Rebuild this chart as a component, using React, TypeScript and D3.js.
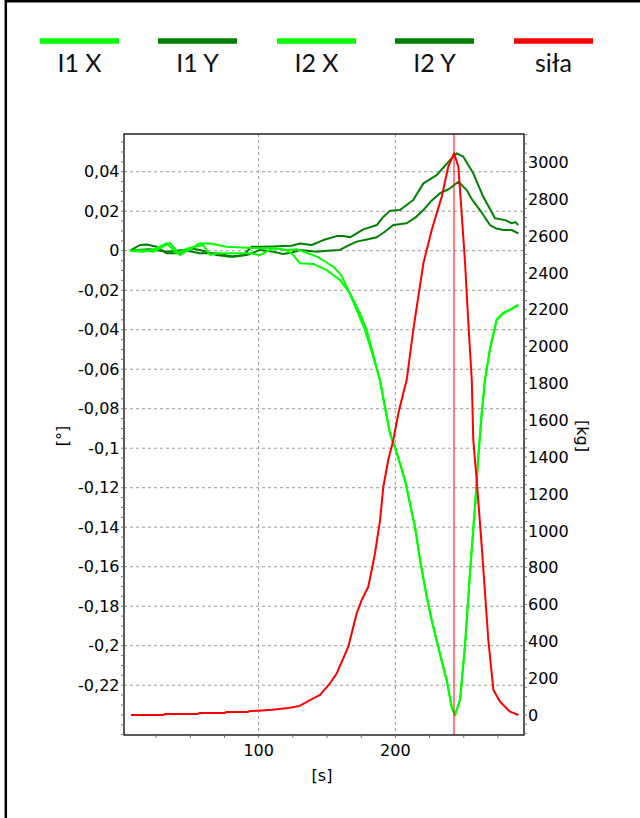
import React from "react";
import * as d3 from "d3";

type Pt = [number, number];

// Legend entries
const seriesNames = ["I1 X", "I1 Y", "I2 X", "I2 Y", "siła"];
const seriesColors = ["#00ff00", "#007f00", "#00ff00", "#007f00", "#ff0000"];

// Inclinometer readings [s, °]
const i1X: Pt[] = [
  [5.9, 0], [15.6, 0.0004], [22.9, -0.0005], [35.1, 0.004], [42.5, -0.0022], [57.1, 0.0038],
  [66, 0.0035], [76.6, 0.002], [91.2, 0.0015], [101, 0.0012], [110.7, 0.0012], [120.5, 0.0004],
  [127.8, 0.0007], [135, -0.001], [142.5, -0.003], [148, -0.0052], [154.6, -0.0081], [160, -0.012],
  [164.4, -0.0182], [168, -0.024], [171.7, -0.03], [177.8, -0.0402], [183, -0.052], [188.8, -0.0655],
  [192.4, -0.079], [196.1, -0.0925], [199.7, -0.0992], [203.4, -0.1076], [207.1, -0.1161],
  [210.7, -0.1279], [214.4, -0.1397], [218.1, -0.1566], [223, -0.1752], [226.6, -0.187],
  [230.2, -0.1971], [233.9, -0.2073], [237.6, -0.2174], [241.2, -0.2309], [243.6, -0.2351],
  [247.3, -0.2275], [250.9, -0.2005], [254.6, -0.1633], [258.3, -0.1296], [260.7, -0.1043],
  [263.2, -0.0823], [265.6, -0.0655], [269.2, -0.05], [274.1, -0.0351], [279, -0.0317],
  [284, -0.03], [289.9, -0.0275],
];

const i2X: Pt[] = [
  [5.9, 0], [15.6, -0.0005], [25, 0.001], [32.7, 0.0038], [40, -0.0013], [48, 0.0012],
  [59.5, 0.0029], [64.4, -0.0022], [69.3, -0.0013], [80, -0.0013], [93.7, -0.0013], [101, -0.0022],
  [110.7, 0.0012], [120.5, 0.0004], [125, -0.002], [130.2, -0.0064], [140, -0.0067],
  [149.8, -0.0098], [159.5, -0.0148], [166.8, -0.0216], [174.1, -0.0317], [179.1, -0.0402],
  [184, -0.053], [188.8, -0.066], [192.4, -0.0795], [196.1, -0.093], [199.7, -0.0997],
  [203.4, -0.108], [207.1, -0.1165], [210.7, -0.1285], [214.4, -0.1402], [218.1, -0.157],
  [223, -0.1756], [226.6, -0.1874], [230.2, -0.1975], [233.9, -0.2078], [237.6, -0.2178],
  [241.2, -0.2312], [243.6, -0.2353], [247.3, -0.2272], [250.9, -0.2], [254.6, -0.1628],
  [258.3, -0.129], [260.7, -0.1038], [263.2, -0.0818], [265.6, -0.065], [269.2, -0.0495],
  [274.1, -0.0348], [279, -0.0314], [284, -0.0298], [289.9, -0.0273],
];

const i1Y: Pt[] = [
  [5.9, 0], [13.2, 0.0029], [18.1, 0.0032], [25.4, 0.002], [32.7, -0.0013], [42.5, -0.0013],
  [49.8, 0.0012], [57.1, 0.0004], [69.3, -0.0022], [79, -0.003], [88.8, -0.0022], [94.9, 0.002],
  [101, 0.002], [110, 0.0022], [118, 0.0024], [124, 0.0025], [130.2, 0.0037], [138.8, 0.0029],
  [147.3, 0.0054], [157.1, 0.0074], [162, 0.0075], [166.8, 0.0068], [176.6, 0.0108],
  [186.4, 0.013], [191, 0.017], [196.1, 0.0203], [203.4, 0.0206], [208, 0.023], [213.1, 0.0257],
  [220.5, 0.0341], [230.2, 0.0383], [235, 0.042], [240, 0.0459], [244.9, 0.0493],
  [249.7, 0.0476], [257, 0.0392], [264.3, 0.0273], [272.9, 0.0164], [280.2, 0.0155],
  [285.1, 0.0139], [288, 0.0145], [289.9, 0.013],
];

const i2Y: Pt[] = [
  [5.9, 0], [13, 0.0005], [20.5, 0.0007], [32.7, -0.0005], [44.9, 0.0004], [57.1, -0.0013],
  [69.3, -0.0013], [81.5, -0.003], [91.2, -0.0022], [101, 0.0004], [110.7, -0.0005],
  [118, -0.0017], [125, -0.0008], [130.2, 0.0004], [142.5, -0.0005], [150, 0], [159.5, 0.0004],
  [165, 0.0025], [171.7, 0.0046], [180, 0.0058], [186.4, 0.0068], [192, 0.0095], [198.5, 0.013],
  [208.3, 0.0139], [215, 0.017], [220.5, 0.0206], [226, 0.025], [232.7, 0.0291], [240, 0.0316],
  [246.1, 0.0349], [252.2, 0.0307], [256, 0.026], [261.9, 0.0206], [269.2, 0.013],
  [274, 0.0112], [279, 0.0105], [285, 0.0105], [290, 0.0088],
];

// Force readings [s, kg]
const sila: Pt[] = [
  [6.6, 0], [30, 0], [32, 5], [55, 5], [57, 11], [75, 11], [77, 16], [92, 16], [94, 22],
  [100, 23], [110, 28], [120, 36], [130, 49], [137.6, 81], [144.9, 109], [152.2, 172],
  [157.1, 226], [165.6, 371], [171.7, 552], [175.4, 624], [180.2, 696], [182.7, 787],
  [185.1, 878], [188.8, 1058], [191.2, 1239], [194.8, 1384], [198.5, 1493], [202.2, 1638],
  [205.8, 1746], [208.3, 1818], [213.1, 2090], [220.5, 2452], [226.6, 2633], [233.9, 2813],
  [238.7, 2976], [242.9, 3049], [246.1, 2976], [248.5, 2723], [251, 2452], [253.4, 2126],
  [255.9, 1818], [257, 1493], [259.5, 1276], [263.2, 914], [265.6, 661], [268, 407],
  [271.7, 136], [276.6, 72], [283.9, 18], [290, 0],
];

// Time of the force peak (vertical marker)
const peakTime = 242.9;

// Tick values
const xMajorTicks = [100, 200];
const xMinorTicks = [25, 50, 75, 100, 125, 150, 175, 200, 225, 250, 275];
const leftMajorTicks = [0.04, 0.02, 0, -0.02, -0.04, -0.06, -0.08, -0.1, -0.12, -0.14, -0.16, -0.18, -0.2, -0.22];
const rightMajorTicks = [0, 200, 400, 600, 800, 1000, 1200, 1400, 1600, 1800, 2000, 2200, 2400, 2600, 2800, 3000];

const W = 640;
const H = 818;
const plot = { left: 124, right: 524, top: 134, bottom: 735 };

const x = d3.scaleLinear().domain([1.5, 294.1]).range([plot.left, plot.right]);
const yL = d3.scaleLinear().domain([-0.2452, 0.0591]).range([plot.bottom, plot.top]);
const yR = d3.scaleLinear().domain([-108.6, 3153.6]).range([plot.bottom, plot.top]);

const fmtDeg = (v: number) => {
  const r = +v.toFixed(3);
  return String(r).replace(".", ",");
};

const tickFont = "'DejaVu Sans', Verdana, sans-serif";
const legendFont = "Lato, 'Open Sans', sans-serif";

export default function App() {
  const lineL = d3.line<Pt>().x((d) => x(d[0])).y((d) => yL(d[1]));
  const lineR = d3.line<Pt>().x((d) => x(d[0])).y((d) => yR(d[1]));

  const leftMinor = d3.range(-0.245, 0.059, 0.005).map((v) => +v.toFixed(3));
  const rightMinor = d3.range(-100, 3151, 50);

  const legendX = [79.5, 197.5, 316.5, 434.5, 553.5];

  const degSeries: { data: Pt[]; color: string }[] = [
    { data: i1Y, color: seriesColors[1] },
    { data: i2Y, color: seriesColors[3] },
    { data: i2X, color: seriesColors[2] },
    { data: i1X, color: seriesColors[0] },
  ];

  return (
    <svg
      width={W}
      height={H}
      style={{ position: "absolute", left: 0, top: 0, background: "#fff" }}
    >
      <rect x={0} y={0} width={W} height={H} fill="#fff" />
      {/* outer frame */}
      <line x1={5.8} x2={5.8} y1={0} y2={H} stroke="#000" strokeWidth={2.5} />
      <line x1={5} x2={W} y1={1.2} y2={1.2} stroke="#000" strokeWidth={2.5} />

      {/* legend */}
      {seriesNames.map((name, i) => (
        <g key={name}>
          <line
            x1={legendX[i] - 39.5}
            x2={legendX[i] + 39.5}
            y1={41}
            y2={41}
            stroke={seriesColors[i]}
            strokeWidth={5.5}
          />
          <text
            x={legendX[i]}
            y={72}
            textAnchor="middle"
            fontFamily={legendFont}
            fontSize={25}
            fill="#111"
          >
            {name}
          </text>
        </g>
      ))}

      {/* grid */}
      {leftMajorTicks.map((v) => (
        <line
          key={"gh" + v}
          x1={plot.left}
          x2={plot.right}
          y1={yL(v)}
          y2={yL(v)}
          stroke="#9a9a9a"
          strokeDasharray="3,3"
        />
      ))}
      {xMajorTicks.map((v) => (
        <line
          key={"gv" + v}
          x1={x(v)}
          x2={x(v)}
          y1={plot.top}
          y2={plot.bottom}
          stroke="#9a9a9a"
          strokeDasharray="3,3"
        />
      ))}

      {/* data */}
      <g clipPath="url(#plotClip)">
        <defs>
          <clipPath id="plotClip">
            <rect x={plot.left} y={plot.top} width={plot.right - plot.left} height={plot.bottom - plot.top} />
          </clipPath>
        </defs>
        {degSeries.map((s, i) => (
          <path key={i} d={lineL(s.data) || ""} fill="none" stroke={s.color} strokeWidth={2} strokeLinejoin="round" />
        ))}
        <path d={lineR(sila) || ""} fill="none" stroke={seriesColors[4]} strokeWidth={2} strokeLinejoin="round" />
        <line x1={x(peakTime)} x2={x(peakTime)} y1={plot.top} y2={plot.bottom} stroke="#ff0000" strokeWidth={1} />
      </g>

      {/* plot border */}
      <rect
        x={plot.left}
        y={plot.top}
        width={plot.right - plot.left}
        height={plot.bottom - plot.top}
        fill="none"
        stroke="#000"
        strokeWidth={1.3}
      />

      {/* left axis ticks */}
      {leftMinor.map((v) => (
        <line key={"lm" + v} x1={plot.left - 3} x2={plot.left} y1={yL(v)} y2={yL(v)} stroke="#777" />
      ))}
      {leftMajorTicks.map((v) => (
        <text
          key={"lt" + v}
          x={119.5}
          y={yL(v)}
          dy="0.36em"
          textAnchor="end"
          fontFamily={tickFont}
          fontSize={16}
          fill="#000"
        >
          {fmtDeg(v)}
        </text>
      ))}

      {/* right axis ticks */}
      {rightMinor.map((v) => (
        <line key={"rm" + v} x1={plot.right} x2={plot.right + 3} y1={yR(v)} y2={yR(v)} stroke="#777" />
      ))}
      {rightMajorTicks.map((v) => (
        <text
          key={"rt" + v}
          x={528}
          y={yR(v)}
          dy="0.36em"
          textAnchor="start"
          fontFamily={tickFont}
          fontSize={16}
          fill="#000"
        >
          {v}
        </text>
      ))}

      {/* bottom axis ticks */}
      {xMinorTicks.map((v) => (
        <line key={"xm" + v} x1={x(v)} x2={x(v)} y1={plot.bottom} y2={plot.bottom + 3} stroke="#777" />
      ))}
      {xMajorTicks.map((v) => (
        <text
          key={"xt" + v}
          x={x(v)}
          y={756}
          textAnchor="middle"
          fontFamily={tickFont}
          fontSize={16}
          fill="#000"
        >
          {v}
        </text>
      ))}

      {/* axis titles */}
      <text x={322} y={781} textAnchor="middle" fontFamily={tickFont} fontSize={16} fill="#000">
        [s]
      </text>
      <text
        transform="translate(62,436) rotate(-90)"
        dy="0.36em"
        textAnchor="middle"
        fontFamily={tickFont}
        fontSize={16}
        fill="#000"
      >
        [°]
      </text>
      <text
        transform="translate(583,436) rotate(90)"
        dy="0.36em"
        textAnchor="middle"
        fontFamily={tickFont}
        fontSize={16}
        fill="#000"
      >
        [kg]
      </text>
    </svg>
  );
}
